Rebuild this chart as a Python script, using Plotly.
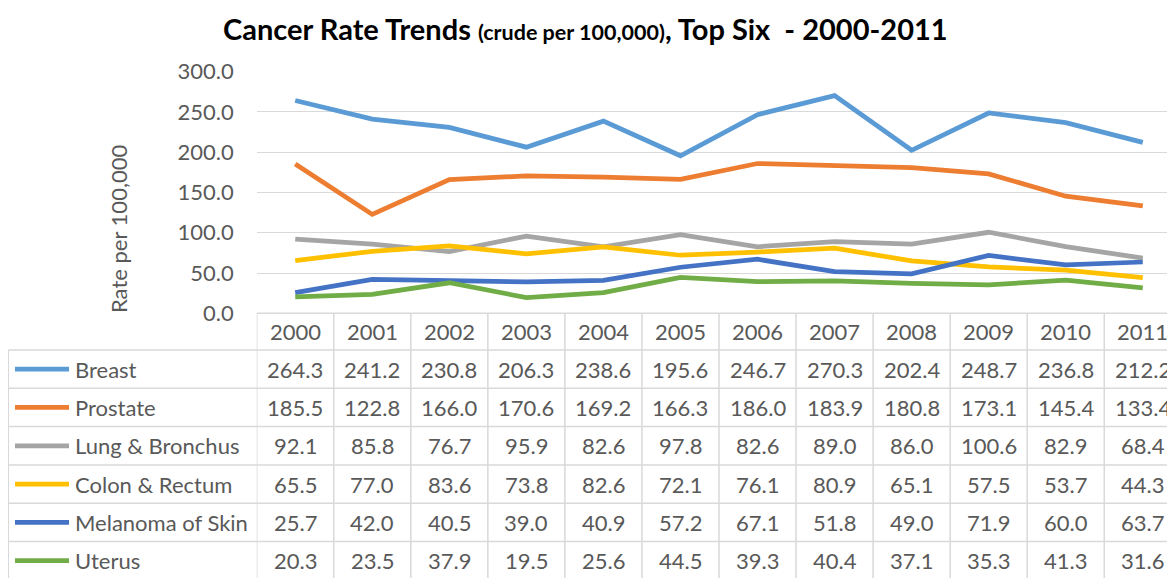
import plotly.graph_objects as go

years = ["2000", "2001", "2002", "2003", "2004", "2005", "2006", "2007", "2008", "2009", "2010", "2011"]
series_names = ["Breast", "Prostate", "Lung & Bronchus", "Colon & Rectum", "Melanoma of Skin", "Uterus"]
breast = [264.3, 241.2, 230.8, 206.3, 238.6, 195.6, 246.7, 270.3, 202.4, 248.7, 236.8, 212.2]
prostate = [185.5, 122.8, 166.0, 170.6, 169.2, 166.3, 186.0, 183.9, 180.8, 173.1, 145.4, 133.4]
lung = [92.1, 85.8, 76.7, 95.9, 82.6, 97.8, 82.6, 89.0, 86.0, 100.6, 82.9, 68.4]
colon = [65.5, 77.0, 83.6, 73.8, 82.6, 72.1, 76.1, 80.9, 65.1, 57.5, 53.7, 44.3]
melanoma = [25.7, 42.0, 40.5, 39.0, 40.9, 57.2, 67.1, 51.8, 49.0, 71.9, 60.0, 63.7]
uterus = [20.3, 23.5, 37.9, 19.5, 25.6, 44.5, 39.3, 40.4, 37.1, 35.3, 41.3, 31.6]
series_values = [breast, prostate, lung, colon, melanoma, uterus]
colors = ["#5B9BD5", "#ED7D31", "#A5A5A5", "#FFC000", "#4472C4", "#70AD47"]

OFF = 8  # page body margin
W, H = 1175 - OFF, 578 - OFF
FONT = "Lato"
FS = 22
TXT = "#595959"
GRID = "#D9D9D9"


def px(p):
    return (p - OFF) / W


def py(p):
    return 1 - (p - OFF) / H


plot_left = 256.7
col_w = 77.05
y0_px, y300_px = 313.3, 71.7
x_max = -0.5 + (1175 - plot_left) / col_w

fig = go.Figure()
for name, vals, c in zip(series_names, series_values, colors):
    fig.add_trace(go.Scatter(x=years, y=vals, mode="lines", name=name,
                             line=dict(color=c, width=4.75), showlegend=False))

fig.update_layout(
    template="none",
    width=W, height=H, margin=dict(l=0, r=0, t=0, b=0, pad=0, autoexpand=False),
    plot_bgcolor="white", paper_bgcolor="white",
    font=dict(family=FONT, color=TXT, size=FS),
    xaxis=dict(domain=[px(plot_left), 1], range=[-0.5, x_max], type="category", automargin=False,
               showticklabels=False, showgrid=False, zeroline=False, showline=False, ticks=""),
    yaxis=dict(domain=[py(y0_px), py(y300_px)], range=[0, 300], tickvals=[0, 50, 100, 150, 200, 250, 300],
               tickformat=".1f", showgrid=True, gridcolor=GRID, gridwidth=1, zeroline=False, automargin=False,
               showline=False, ticks="", ticklabelstandoff=22,
               tickfont=dict(family=FONT, size=FS, color=TXT)),
)

# Title
fig.add_annotation(
    x=px(585), y=py(8.5), xref="paper", yref="paper", xanchor="center", yanchor="top", showarrow=False,
    text="<b>Cancer Rate Trends <span style='font-size:21.5px'>(crude per 100,000)</span>, Top Six&nbsp;&nbsp;- 2000-2011</b>",
    font=dict(family=FONT, size=29, color="black"))

# Y-axis title
fig.add_annotation(
    x=px(118), y=py(229), xref="paper", yref="paper", xanchor="center", yanchor="middle", showarrow=False,
    text="Rate per 100,000", textangle=-90, font=dict(family=FONT, size=FS, color=TXT))

# Data table
header_top, header_bot = y0_px, 350.0
row_h = 38.3
table_left = 8.3
n_rows = len(series_names)
line_style = dict(color=GRID, width=1.5)

fig.add_shape(type="line", xref="x", yref="paper", x0=-0.5, x1=x_max, y0=py(header_top), y1=py(header_top), line=line_style)
for r in range(n_rows + 1):
    yy = header_bot + r * row_h
    fig.add_shape(type="line", xref="paper", yref="paper", x0=px(table_left), x1=1, y0=py(yy), y1=py(yy), line=line_style)
fig.add_shape(type="line", xref="paper", yref="paper", x0=px(table_left), x1=px(table_left),
              y0=py(header_bot), y1=0, line=line_style)
for i in range(len(years)):
    xb = i - 0.5
    fig.add_shape(type="line", xref="x", yref="paper", x0=xb, x1=xb, y0=py(header_top), y1=0, line=line_style)

for i, yr in enumerate(years):
    fig.add_annotation(x=i, y=py((header_top + header_bot) / 2), xref="x", yref="paper",
                       xanchor="center", yanchor="middle", showarrow=False, text=yr,
                       font=dict(family=FONT, size=FS, color=TXT))

for r, (name, vals, c) in enumerate(zip(series_names, series_values, colors)):
    yc = header_bot + (r + 0.5) * row_h
    fig.add_shape(type="line", xref="paper", yref="paper", x0=px(15), x1=px(69), y0=py(yc), y1=py(yc),
                  line=dict(color=c, width=4.75))
    fig.add_annotation(x=px(73), y=py(yc), xref="paper", yref="paper", xanchor="left", yanchor="middle",
                       showarrow=False, text=name, font=dict(family=FONT, size=FS, color=TXT))
    for i, v in enumerate(vals):
        fig.add_annotation(x=i, y=py(yc), xref="x", yref="paper", xanchor="center", yanchor="middle",
                           showarrow=False, text=f"{v:.1f}", font=dict(family=FONT, size=FS, color=TXT))

fig.write_html("out.html")
